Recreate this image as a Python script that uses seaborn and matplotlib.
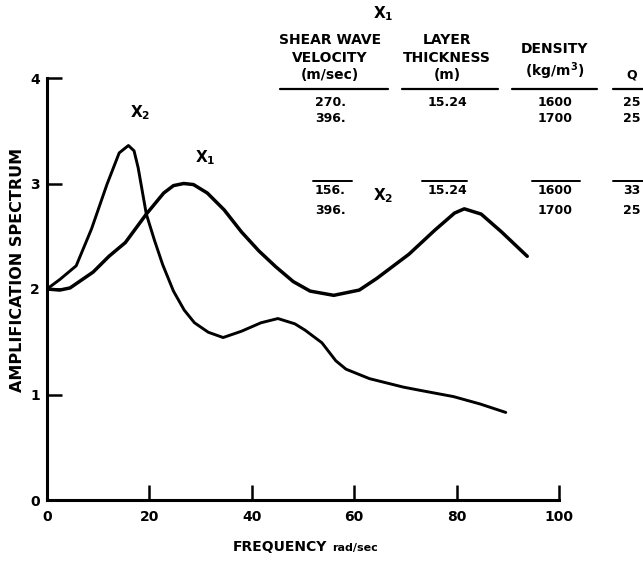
import numpy as np
import pandas as pd
import matplotlib
matplotlib.use('Agg')
import matplotlib.pyplot as plt
import seaborn as sns

# values (scan is slightly rotated, read along its own axes)
x1_freq = [0, 2.5, 4.5, 9.0, 12.1, 15.3, 19.4, 22.8, 24.7, 26.7, 28.6, 31.3, 34.6, 38.0,
           41.4, 44.7, 48.1, 51.4, 56.0, 61.0, 64.4, 70.7, 75.8, 79.6, 81.5, 84.8, 88.8, 93.8]
x1_amp = [2.0, 1.99, 2.01, 2.16, 2.31, 2.44, 2.71, 2.91, 2.98, 3.00, 2.99, 2.91, 2.75, 2.54,
          2.36, 2.21, 2.07, 1.98, 1.94, 1.99, 2.10, 2.33, 2.56, 2.72, 2.76, 2.71, 2.54, 2.31]

x2_freq = [0, 2.5, 5.7, 8.7, 11.7, 14.1, 15.9, 17.0, 17.8, 18.6, 19.4, 21.0, 22.6, 24.7, 26.8,
           28.8, 31.5, 34.4, 38.0, 41.8, 45.1, 48.4, 50.4, 53.7, 56.4, 58.4, 63.0, 69.6, 72.8,
           79.4, 84.6, 89.6]
x2_amp = [2.0, 2.09, 2.22, 2.57, 2.99, 3.29, 3.36, 3.31, 3.15, 2.93, 2.71, 2.46, 2.23, 1.98, 1.80,
          1.68, 1.59, 1.54, 1.60, 1.68, 1.72, 1.67, 1.61, 1.49, 1.32, 1.24, 1.15, 1.07, 1.04,
          0.98, 0.91, 0.83]

x_ticks = [0, 20, 40, 60, 80, 100]
y_ticks = [0, 1, 2, 3, 4]

headers = ['SHEAR WAVE\nVELOCITY\n(m/sec)', 'LAYER\nTHICKNESS\n(m)', 'DENSITY\n(kg/m$^\\mathbf{3}$)', 'Q']
x1_props = [['270.', '396.'], ['15.24', ''], ['1600', '1700'], ['25', '25']]
x2_props = [['156.', '396.'], ['15.24', ''], ['1600', '1700'], ['33', '25']]

sns.set_style('ticks')
plt.rcParams['font.family'] = ['DejaVu Sans']
plt.rcParams['font.weight'] = 'bold'
for k in ['text.color', 'axes.labelcolor', 'xtick.color', 'ytick.color', 'axes.edgecolor']:
    plt.rcParams[k] = 'black'

df1 = pd.DataFrame({'freq': x1_freq, 'amp': x1_amp})
df2 = pd.DataFrame({'freq': x2_freq, 'amp': x2_amp})

W, H = 643, 562
fig = plt.figure(figsize=(W / 100, H / 100), dpi=100)
ax = fig.add_axes([47 / W, 62 / H, 512 / W, 422 / H])

sns.lineplot(data=df1, x='freq', y='amp', ax=ax, color='black', linewidth=2.5,
             solid_joinstyle='round', solid_capstyle='round')
sns.lineplot(data=df2, x='freq', y='amp', ax=ax, color='black', linewidth=2.1,
             solid_joinstyle='round', solid_capstyle='round')

ax.set_xlim(0, 100)
ax.set_ylim(0, 4)
ax.set_xticks(x_ticks)
ax.set_yticks(y_ticks)
ax.tick_params(direction='in', length=11, width=1.8, labelsize=10)
ax.tick_params(axis='y', pad=5)
ax.tick_params(axis='x', pad=7)
for lab in ax.get_xticklabels() + ax.get_yticklabels():
    lab.set_fontweight('bold')
for s in ['top', 'right']:
    ax.spines[s].set_visible(False)
for s in ['left', 'bottom']:
    ax.spines[s].set_linewidth(2.2)
ax.set_xlabel('')
ax.set_ylabel('')

# axis titles
fig.text(18 / W, 1 - 270 / H, 'AMPLIFICATION SPECTRUM', rotation=90, fontsize=11.5,
         fontweight='bold', ha='center', va='center')
fig.text(327 / W, 1 - 547 / H, 'FREQUENCY', fontsize=10, fontweight='bold',
         ha='right', va='center')
fig.text(332 / W, 1 - 548 / H, 'rad/sec', fontsize=8, fontweight='bold',
         ha='left', va='center')

# curve labels
fig.text(140 / W, 1 - 113 / H, r'$\mathbf{X_2}$', fontsize=11, ha='center', va='center')
fig.text(205 / W, 1 - 158 / H, r'$\mathbf{X_1}$', fontsize=11, ha='center', va='center')

# property table
col_x = [330, 447, 555, 632]
line_spans = [(280, 388), (402, 498), (512, 597), (613, 643)]
fig.text(383 / W, 1 - 14 / H, r'$\mathbf{X_1}$', fontsize=11, ha='center', va='center')
for i, h in enumerate(headers):
    fig.text(col_x[i] / W, 1 - 82 / H, h, fontsize=10 if i < 3 else 9,
             fontweight='bold', ha='center', va='bottom', linespacing=1.3)
    x0, x1 = line_spans[i]
    fig.add_artist(plt.Line2D([x0 / W, x1 / W], [1 - 89 / H] * 2,
                              color='black', linewidth=1.6, transform=fig.transFigure))
    for j, v in enumerate(x1_props[i]):
        fig.text(col_x[i] / W, 1 - (102 + 17 * j) / H, v, fontsize=9,
                 fontweight='bold', ha='center', va='center')

fig.text(383 / W, 1 - 196 / H, r'$\mathbf{X_2}$', fontsize=11, ha='center', va='center')
over_spans = [(313, 352), (422, 467), (532, 580), (613, 643)]
for i in range(4):
    x0, x1 = over_spans[i]
    fig.add_artist(plt.Line2D([x0 / W, x1 / W], [1 - 181 / H] * 2,
                              color='black', linewidth=1.4, transform=fig.transFigure))
    for j, v in enumerate(x2_props[i]):
        fig.text(col_x[i] / W, 1 - (191 + 19 * j) / H, v, fontsize=9,
                 fontweight='bold', ha='center', va='center')

fig.savefig('out.png', dpi=100)
